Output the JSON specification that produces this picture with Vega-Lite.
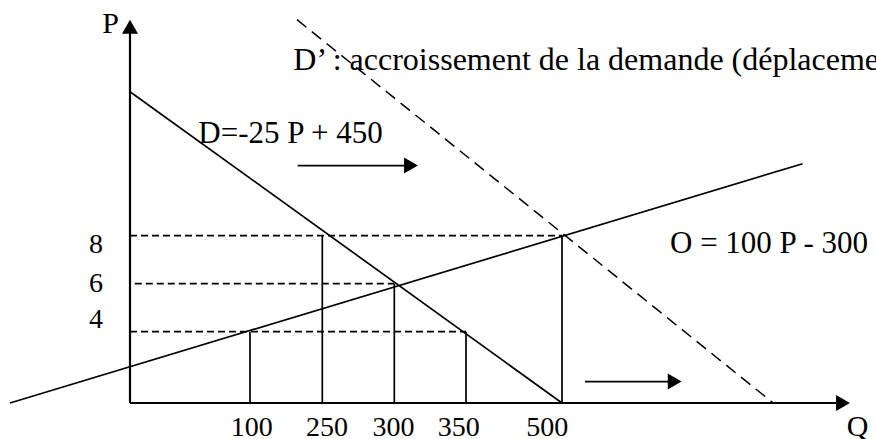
{
  "$schema": "https://vega.github.io/schema/vega-lite/v6.json",
  "width": 876,
  "height": 439,
  "padding": 0,
  "autosize": {"type": "none"},
  "background": "white",
  "config": {"view": {"stroke": null}},
  "datasets": {
    "curves": [
      {"name": "D", "q": 0, "p": 14, "q2": 500, "p2": 0},
      {"name": "O", "q": -100, "p": 0, "q2": 876, "p2": 11},
      {"name": "v100", "q": 100, "p": 0, "q2": 100, "p2": 4},
      {"name": "v250", "q": 250, "p": 0, "q2": 250, "p2": 8},
      {"name": "v300", "q": 300, "p": 0, "q2": 300, "p2": 6},
      {"name": "v350", "q": 350, "p": 0, "q2": 350, "p2": 4},
      {"name": "v500", "q": 500, "p": 0, "q2": 500, "p2": 8},
      {"name": "shift1", "q": 199, "p": 10.92, "q2": 310, "p2": 10.92},
      {"name": "shift2", "q": 536, "p": 1.2, "q2": 672, "p2": 1.2}
    ],
    "axes": [
      {"name": "Paxis", "q": 0, "p": 0, "q2": 0, "p2": 16.6},
      {"name": "Qaxis", "q": 0, "p": 0, "q2": 932, "p2": 0}
    ],
    "guides": [
      {"name": "P8", "q": 0, "p": 8, "q2": 500, "p2": 8},
      {"name": "P6", "q": 4, "p": 6, "q2": 300, "p2": 6},
      {"name": "P4", "q": 0, "p": 4, "q2": 350, "p2": 4}
    ],
    "dprime": [
      {"name": "D'", "q": 197.5, "p": 17, "q2": 830, "p2": 0}
    ],
    "headsUp": [
      {"name": "Ptip", "q": 0, "p": 17}
    ],
    "headsRight": [
      {"name": "Qtip", "q": 950, "p": 0},
      {"name": "shift1tip", "q": 316.5, "p": 10.92},
      {"name": "shift2tip", "q": 687, "p": 1.2}
    ],
    "axisNames": [
      {"label": "P", "q": -16.25, "p": 16.43},
      {"label": "Q", "q": 962, "p": -1.86}
    ],
    "ticks": [
      {"label": "8", "q": -28.3, "p": 7.27},
      {"label": "6", "q": -28.3, "p": 5.67},
      {"label": "4", "q": -28.3, "p": 4.17},
      {"label": "100", "q": 103.5, "p": -1.85},
      {"label": "250", "q": 253.3, "p": -1.85},
      {"label": "300", "q": 299.5, "p": -1.85},
      {"label": "350", "q": 345, "p": -1.85},
      {"label": "500", "q": 477, "p": -1.85}
    ],
    "equations": [
      {"label": "D=-25 P + 450", "q": 56.9, "p": 11.85},
      {"label": "O = 100 P - 300", "q": 668.75, "p": 7.28}
    ],
    "note": [
      {"label": "D’ : accroissement de la demande (déplacement", "q": 189.8, "p": 14.9}
    ]
  },
  "encoding": {
    "x": {
      "field": "q",
      "type": "quantitative",
      "axis": null,
      "scale": {"domain": [0, 100, 250, 300, 350, 500], "range": [130, 250, 322.3, 394.3, 466, 562], "nice": false, "zero": false}
    },
    "y": {
      "field": "p",
      "type": "quantitative",
      "axis": null,
      "scale": {"domain": [0, 4, 8], "range": [403, 331.7, 235.7], "nice": false, "zero": false}
    }
  },
  "layer": [
    {
      "data": {"name": "guides"},
      "mark": {"type": "rule", "color": "black", "strokeWidth": 1.8, "strokeDash": [7, 4]},
      "encoding": {"x2": {"field": "q2"}, "y2": {"field": "p2"}}
    },
    {
      "data": {"name": "dprime"},
      "mark": {"type": "rule", "color": "black", "strokeWidth": 1.5, "strokeDash": [12, 7]},
      "encoding": {"x2": {"field": "q2"}, "y2": {"field": "p2"}}
    },
    {
      "data": {"name": "curves"},
      "mark": {"type": "rule", "color": "black", "strokeWidth": 1.7},
      "encoding": {"x2": {"field": "q2"}, "y2": {"field": "p2"}}
    },
    {
      "data": {"name": "axes"},
      "mark": {"type": "rule", "color": "black", "strokeWidth": 2.2},
      "encoding": {"x2": {"field": "q2"}, "y2": {"field": "p2"}}
    },
    {
      "data": {"name": "headsUp"},
      "mark": {"type": "point", "shape": "triangle-up", "size": 256, "filled": true, "color": "black", "opacity": 1, "yOffset": 7}
    },
    {
      "data": {"name": "headsRight"},
      "mark": {"type": "point", "shape": "triangle-right", "size": 256, "filled": true, "color": "black", "opacity": 1, "xOffset": -7}
    },
    {
      "data": {"name": "axisNames"},
      "mark": {"type": "text", "font": "Liberation Serif", "fontSize": 30, "align": "center", "baseline": "alphabetic", "color": "black"},
      "encoding": {"text": {"field": "label"}}
    },
    {
      "data": {"name": "ticks"},
      "mark": {"type": "text", "font": "Liberation Serif", "fontSize": 28, "align": "center", "baseline": "alphabetic", "color": "black"},
      "encoding": {"text": {"field": "label"}}
    },
    {
      "data": {"name": "equations"},
      "mark": {"type": "text", "font": "Liberation Serif", "fontSize": 31, "align": "left", "baseline": "alphabetic", "color": "black"},
      "encoding": {"text": {"field": "label"}}
    },
    {
      "data": {"name": "note"},
      "mark": {"type": "text", "font": "Liberation Serif", "fontSize": 32, "align": "left", "baseline": "alphabetic", "color": "black"},
      "encoding": {"text": {"field": "label"}}
    }
  ]
}
